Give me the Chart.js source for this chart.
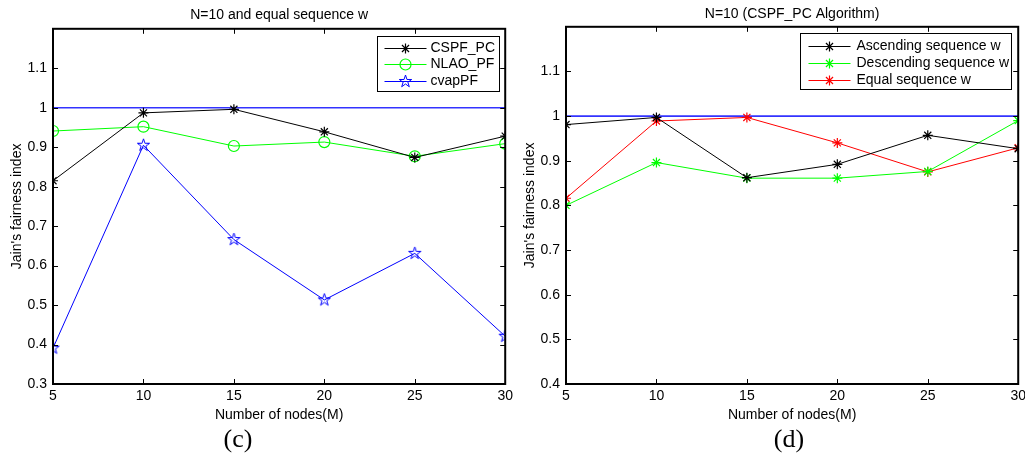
<!DOCTYPE html>
<html>
<head>
<meta charset="utf-8">
<script src="https://cdn.jsdelivr.net/npm/chart.js@4.4.0/dist/chart.umd.min.js"></script>
<style>
  html, body { margin: 0; padding: 0; background: #fff; }
  body { width: 1025px; height: 457px; position: relative; overflow: hidden; }
  canvas { position: absolute; top: 0; }
  #chartC { left: 0; }
  #chartD { left: 512px; }
  .caption { position: absolute; font-family: "Liberation Serif", "Times New Roman", serif; font-size: 26px; line-height: 26px; width: 100px; text-align: center; top: 426px; }
</style>
</head>
<body>
<canvas id="chartC" width="517" height="457"></canvas>
<canvas id="chartD" width="518" height="457"></canvas>
<div class="caption" style="left:188px">(c)</div>
<div class="caption" style="left:739px">(d)</div>
<script>
// node counts on the x axis
const nodes = [5, 10, 15, 20, 25, 30];
const xTicks = [5, 10, 15, 20, 25, 30];

// (c) N=10, equal sequence w
const cspfPc = [0.815, 0.987, 0.996, 0.939, 0.874, 0.928];
const nlaoPf = [0.941, 0.952, 0.903, 0.913, 0.877, 0.909];
const cvapPf = [0.391, 0.905, 0.666, 0.513, 0.631, 0.421];
const yTicksC = [0.3, 0.4, 0.5, 0.6, 0.7, 0.8, 0.9, 1.0, 1.1];

// (d) N=10, CSPF_PC with different sequences
const ascendingW = [0.981, 0.997, 0.862, 0.892, 0.957, 0.927];
const descendingW = [0.800, 0.896, 0.861, 0.861, 0.876, 0.990];
const equalW = [0.816, 0.989, 0.997, 0.940, 0.875, 0.929];
const yTicksD = [0.4, 0.5, 0.6, 0.7, 0.8, 0.9, 1.0, 1.1];

// upper bound line at 1
const boundX = [5, 30];
const boundY = [1, 1];

const FONT = '"Liberation Sans", Arial, Helvetica, sans-serif';
Chart.defaults.font.family = FONT;
Chart.defaults.font.size = 14;
Chart.defaults.color = '#000';

const pts = (xs, ys) => xs.map((x, i) => ({ x: x, y: ys[i] }));

// pentagram marker (matlab 'p')
function makePentagram(color) {
  const c = document.createElement('canvas');
  c.width = 15; c.height = 15;
  const g = c.getContext('2d');
  const R = 6.5, r = R * 0.382;
  g.beginPath();
  for (let i = 0; i < 10; i++) {
    const rad = i % 2 === 0 ? R : r;
    const a = -Math.PI / 2 + i * Math.PI / 5;
    const px = 7.5 + rad * Math.cos(a), py = 7.5 + rad * Math.sin(a);
    if (i === 0) g.moveTo(px, py); else g.lineTo(px, py);
  }
  g.closePath();
  g.strokeStyle = color;
  g.lineWidth = 1;
  g.stroke();
  return c;
}
const pentagram = makePentagram('#0000ff');

function series(label, ys, color, style, radius) {
  return {
    label: label,
    data: pts(nodes, ys),
    borderColor: color,
    backgroundColor: 'rgba(0,0,0,0)',
    borderWidth: 1,
    pointStyle: style,
    pointRadius: radius,
    pointBorderWidth: 1.2,
    pointBorderColor: color,
    pointBackgroundColor: 'rgba(0,0,0,0)',
    tension: 0
  };
}

function boundSeries() {
  return {
    label: '',
    data: pts(boundX, boundY),
    borderColor: '#3333ff',
    borderWidth: 1.6,
    pointRadius: 0,
    tension: 0
  };
}

// matlab style box with inward ticks on all four sides
const axesBox = {
  id: 'axesBox',
  afterDraw(chart) {
    const { ctx, chartArea: a, scales } = chart;
    const len = 5;
    ctx.save();
    ctx.strokeStyle = '#000';
    ctx.lineWidth = 1;
    ctx.beginPath();
    scales.x.ticks.forEach(t => {
      const px = Math.round(scales.x.getPixelForValue(t.value)) + 0.5;
      ctx.moveTo(px, a.bottom); ctx.lineTo(px, a.bottom - len);
      ctx.moveTo(px, a.top); ctx.lineTo(px, a.top + len);
    });
    scales.y.ticks.forEach(t => {
      const py = Math.round(scales.y.getPixelForValue(t.value)) + 0.5;
      ctx.moveTo(a.left, py); ctx.lineTo(a.left + len, py);
      ctx.moveTo(a.right, py); ctx.lineTo(a.right - len, py);
    });
    ctx.stroke();
    ctx.lineWidth = 2;
    ctx.strokeRect(a.left, a.top, a.right - a.left, a.bottom - a.top);
    ctx.restore();
  }
};

// boxed legend inside the plot, top right
const boxLegend = {
  id: 'boxLegend',
  afterDraw(chart, args, o) {
    const { ctx, chartArea: a } = chart;
    const x0 = Math.round(a.right - o.right - o.width) + 0.5;
    const y0 = Math.round(a.top + o.top) + 0.5;
    ctx.save();
    ctx.fillStyle = '#fff';
    ctx.fillRect(x0, y0, o.width, o.height);
    ctx.strokeStyle = '#000';
    ctx.lineWidth = 1;
    ctx.strokeRect(x0, y0, o.width, o.height);
    ctx.font = '14px ' + FONT;
    ctx.textBaseline = 'middle';
    let row = 0;
    chart.data.datasets.forEach(ds => {
      if (!ds.label) return;
      const y = Math.round(y0 + o.firstRow + row * o.rowGap) + 0.5;
      ctx.strokeStyle = ds.borderColor;
      ctx.lineWidth = 1;
      ctx.beginPath();
      ctx.moveTo(x0 + o.lineStart, y);
      ctx.lineTo(x0 + o.lineEnd, y);
      ctx.stroke();
      ctx.fillStyle = 'rgba(0,0,0,0)';
      ctx.lineWidth = 1.2;
      Chart.helpers.drawPoint(ctx, {
        pointStyle: ds.pointStyle, radius: ds.pointRadius, rotation: 0, borderWidth: 1.2
      }, x0 + (o.lineStart + o.lineEnd) / 2, y);
      ctx.fillStyle = '#000';
      ctx.fillText(ds.label, x0 + o.textX, y);
      row++;
    });
    ctx.restore();
  }
};

function makeChart(id, cfg) {
  return new Chart(document.getElementById(id), {
    type: 'line',
    data: { datasets: cfg.datasets },
    options: {
      responsive: false,
      animation: false,
      events: [],
      layout: { autoPadding: false, padding: cfg.padding },
      plugins: {
        legend: { display: false },
        tooltip: { enabled: false },
        title: {
          display: true,
          text: cfg.title,
          fullSize: false,
          color: '#000',
          font: { size: 14, weight: 'normal' },
          padding: cfg.titlePad
        },
        boxLegend: cfg.legend
      },
      scales: {
        x: {
          type: 'linear',
          min: 5,
          max: 30,
          afterBuildTicks: s => { s.ticks = xTicks.map(v => ({ value: v })); },
          afterFit: s => { s.height = 40; },
          grid: { display: false, drawTicks: false },
          border: { display: false },
          ticks: { padding: 4, maxRotation: 0, autoSkip: false, color: '#000' },
          title: {
            display: true,
            text: 'Number of nodes(M)',
            color: '#000',
            font: { size: 14 },
            padding: { top: 0, bottom: 0 }
          }
        },
        y: {
          type: 'linear',
          min: cfg.yMin,
          max: 1.2,
          afterBuildTicks: s => { s.ticks = cfg.yTicks.map(v => ({ value: v })); },
          afterFit: s => { s.width = cfg.yWidth; },
          grid: { display: false, drawTicks: false },
          border: { display: false },
          ticks: {
            padding: 6,
            color: '#000',
            callback: v => String(Math.round(v * 10) / 10)
          },
          title: {
            display: true,
            text: "Jain's fairness index",
            color: '#000',
            font: { size: 14 },
            padding: { top: cfg.yTitleOffset, bottom: 0 }
          }
        }
      }
    },
    plugins: [axesBox, boxLegend]
  });
}

makeChart('chartC', {
  title: 'N=10 and equal sequence w',
  titlePad: { top: 7, bottom: 5 },
  padding: { left: 0, right: 3, top: 0, bottom: 33 },
  yMin: 0.3,
  yTicks: yTicksC,
  yWidth: 53,
  yTitleOffset: 8.6,
  datasets: [
    series('CSPF_PC', cspfPc, '#000000', 'star', 5),
    series('NLAO_PF', nlaoPf, '#00ff00', 'circle', 5.5),
    series('cvapPF', cvapPf, '#0000ff', pentagram, 6),
    boundSeries()
  ],
  legend: { right: 6, top: 7, width: 122, height: 55, firstRow: 11, rowGap: 16.5, lineStart: 7, lineEnd: 49, textX: 53 }
});

makeChart('chartD', {
  title: 'N=10 (CSPF_PC Algorithm)',
  titlePad: { top: 6, bottom: 4 },
  padding: { left: 0, right: 2, top: 0, bottom: 33 },
  yMin: 0.4,
  yTicks: yTicksD,
  yWidth: 54,
  yTitleOffset: 9.6,
  datasets: [
    series('Ascending sequence w', ascendingW, '#000000', 'star', 5),
    series('Descending sequence w', descendingW, '#00ff00', 'star', 5),
    series('Equal sequence w', equalW, '#ff0000', 'star', 5),
    boundSeries()
  ],
  legend: { right: 7, top: 6.6, width: 211, height: 56, firstRow: 12, rowGap: 17, lineStart: 8, lineEnd: 50, textX: 56 }
});
</script>
</body>
</html>
